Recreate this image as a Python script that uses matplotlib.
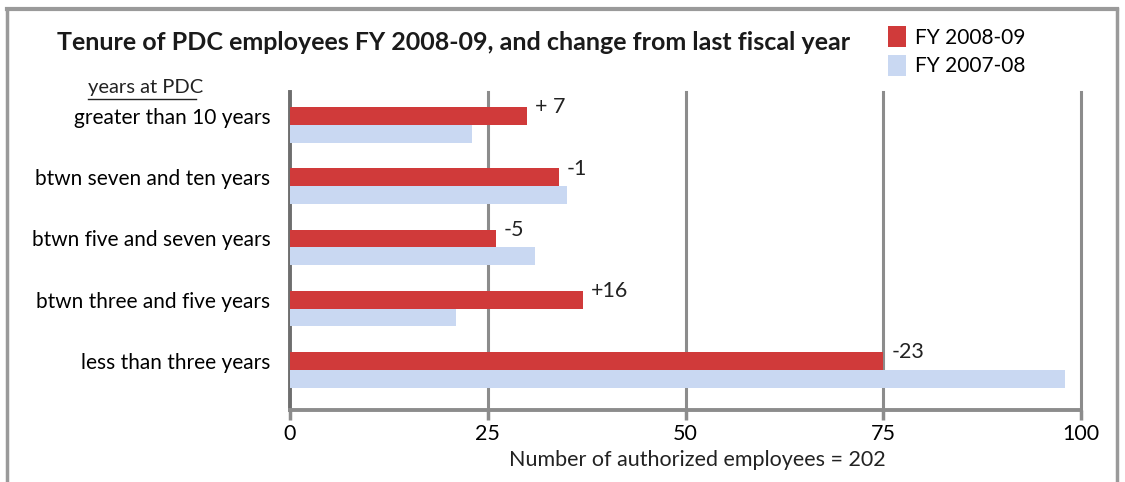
import matplotlib
matplotlib.use("Agg")
import matplotlib.pyplot as plt
from matplotlib.lines import Line2D
import numpy as np

plt.rcParams['font.family'] = ['Lato', 'DejaVu Sans']

# data
categories = ["greater than 10 years", "btwn seven and ten years",
              "btwn five and seven years", "btwn three and five years",
              "less than three years"]
fy_0809 = [30, 34, 26, 37, 75]
fy_0708 = [23, 35, 31, 21, 98]
change_labels = ["+ 7", "-1", "-5", "+16", "-23"]
xticks = [0, 25, 50, 75, 100]

red = '#d03a3a'
blue = '#c9d8f2'
grey = '#8c8c8c'

fig = plt.figure(figsize=(11.25, 4.82), dpi=100)
ax = fig.add_axes([290/1125, 1 - 410/482, 791/1125, 318/482])

pos = np.arange(len(categories))[::-1].astype(float)
h = 0.29
ax.barh(pos, fy_0809, height=h, color=red, zorder=3, label='FY 2008-09')
ax.barh(pos - h, fy_0708, height=h, color=blue, zorder=3, label='FY 2007-08')

for p, v, lab in zip(pos, fy_0809, change_labels):
    ax.text(v + 1.0, p + 0.14, lab, va='center', ha='left', fontsize=15.5, color='#222222')

ax.set_xlim(0, 100)
ax.set_ylim(-0.80, 4.39)
ax.set_xticks(xticks)
ax.set_xticklabels([str(t) for t in xticks], fontsize=15.5)
ax.set_yticks(pos)
ax.set_yticklabels(categories, fontsize=15)
ax.tick_params(axis='y', length=0, pad=14)
ax.tick_params(axis='x', length=7, width=2.5, color=grey, pad=3, direction='out')

for x in xticks[1:]:
    ax.axvline(x, color=grey, lw=2.2, zorder=1, clip_on=False)
for s in ['top', 'right']:
    ax.spines[s].set_visible(False)
ax.spines['left'].set_color('#6e6e6e')
ax.spines['left'].set_linewidth(2.8)
ax.spines['bottom'].set_color(grey)
ax.spines['bottom'].set_linewidth(2.8)

fig.text(57/1125, 1 - 42/482, "Tenure of PDC employees FY 2008-09, and change from last fiscal year",
         fontsize=18, fontweight='bold', va='center', ha='left', color='#1a1a1a')
fig.text(88/1125, 1 - 88/482, "years at PDC", fontsize=14.5, va='center', ha='left', color='#222222')
fig.add_artist(Line2D([88/1125, 196/1125], [1 - 99/482, 1 - 99/482], color='#222222', lw=1))
fig.text(697/1125, 1 - 460/482, "Number of authorized employees = 202", fontsize=15.5,
         ha='center', va='center', color='#222222')

# legend
leg = fig.legend(loc='upper left', bbox_to_anchor=(880/1125, 1 - 18/482), frameon=False,
                 fontsize=15, handlelength=0.85, handleheight=1.15, handletextpad=0.45,
                 labelspacing=0.35, borderaxespad=0)

# outer frame
fig.add_artist(Line2D([7/1125, 7/1125], [0, 1 - 9/482], color='#9a9a9a', lw=2.5))
fig.add_artist(Line2D([7/1125, 1117/1125], [1 - 9/482, 1 - 9/482], color='#9a9a9a', lw=3))
fig.add_artist(Line2D([1117/1125, 1117/1125], [0, 1 - 9/482], color='#9a9a9a', lw=2.5))

fig.savefig("out.png", dpi=100)
